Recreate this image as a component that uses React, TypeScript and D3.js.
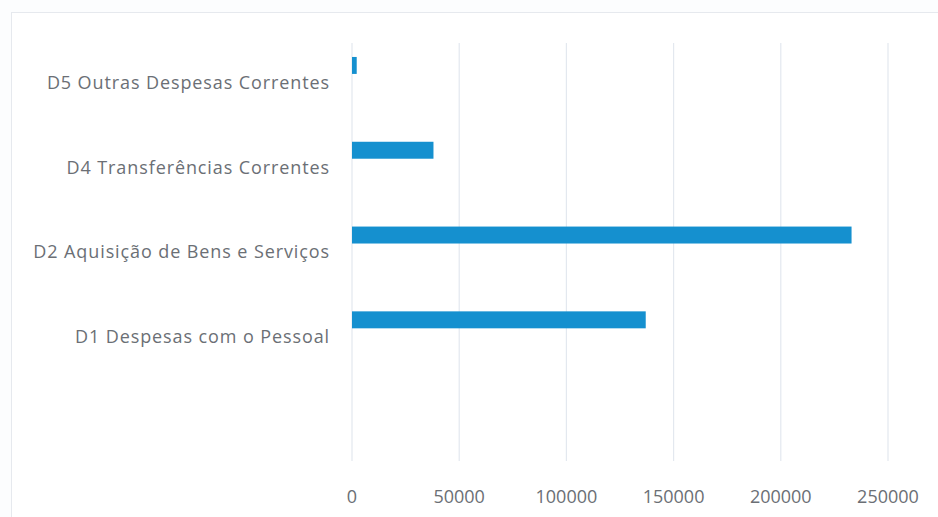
import { scaleBand, scaleLinear } from "d3";

const categories = [
  "D5 Outras Despesas Correntes",
  "D4 Transferências Correntes",
  "D2 Aquisição de Bens e Serviços",
  "D1 Despesas com o Pessoal",
  "",
];
const values = [2200, 38000, 233000, 137000, 0];
const ticks = [0, 50000, 100000, 150000, 200000, 250000];

const width = 938;
const height = 517;
const plot = { left: 352, right: 888, top: 40, bottom: 464 };

const font = "'Open Sans', 'Noto Sans', sans-serif";

export default function App() {
  const yScale = scaleBand()
    .domain(categories)
    .range([plot.top, plot.bottom])
    .paddingInner(0);

  const xScale = scaleLinear()
    .domain([0, 250000])
    .range([plot.left, plot.right]);

  const band = yScale.bandwidth();

  return (
    <svg
      width={width}
      height={height}
      style={{ position: "absolute", left: 0, top: 0, background: "#fcfdfe" }}
    >
      {/* chart frame */}
      <rect
        x={11.5}
        y={12.5}
        width={width + 20}
        height={height + 20}
        fill="#ffffff"
        stroke="#e6e9ee"
      />

      {/* grid lines */}
      {ticks.map((t) => (
        <line
          key={t}
          x1={xScale(t)}
          x2={xScale(t)}
          y1={plot.top + 3}
          y2={plot.bottom - 3}
          stroke="#e3e8ef"
          strokeWidth={1.2}
        />
      ))}

      {/* bars */}
      {categories.map((c, i) =>
        values[i] > 0 ? (
          <rect
            key={c}
            x={xScale(0)}
            y={(yScale(c) ?? 0) + band * 0.2}
            width={xScale(values[i]) - xScale(0)}
            height={band * 0.2}
            fill="#1590cf"
          />
        ) : null
      )}

      {/* category labels */}
      {categories.map((c) => (
        <text
          key={"l" + c}
          x={330}
          y={(yScale(c) ?? 0) + band / 2}
          dy="0.35em"
          textAnchor="end"
          fontFamily={font}
          fontSize={18}
          letterSpacing={0.9}
          fill="#6b6f75"
        >
          {c}
        </text>
      ))}

      {/* value axis labels */}
      {ticks.map((t) => (
        <text
          key={"t" + t}
          x={xScale(t)}
          y={497}
          dy="0.35em"
          textAnchor="middle"
          fontFamily={font}
          fontSize={18}
          fill="#6b6f75"
        >
          {t}
        </text>
      ))}
    </svg>
  );
}
